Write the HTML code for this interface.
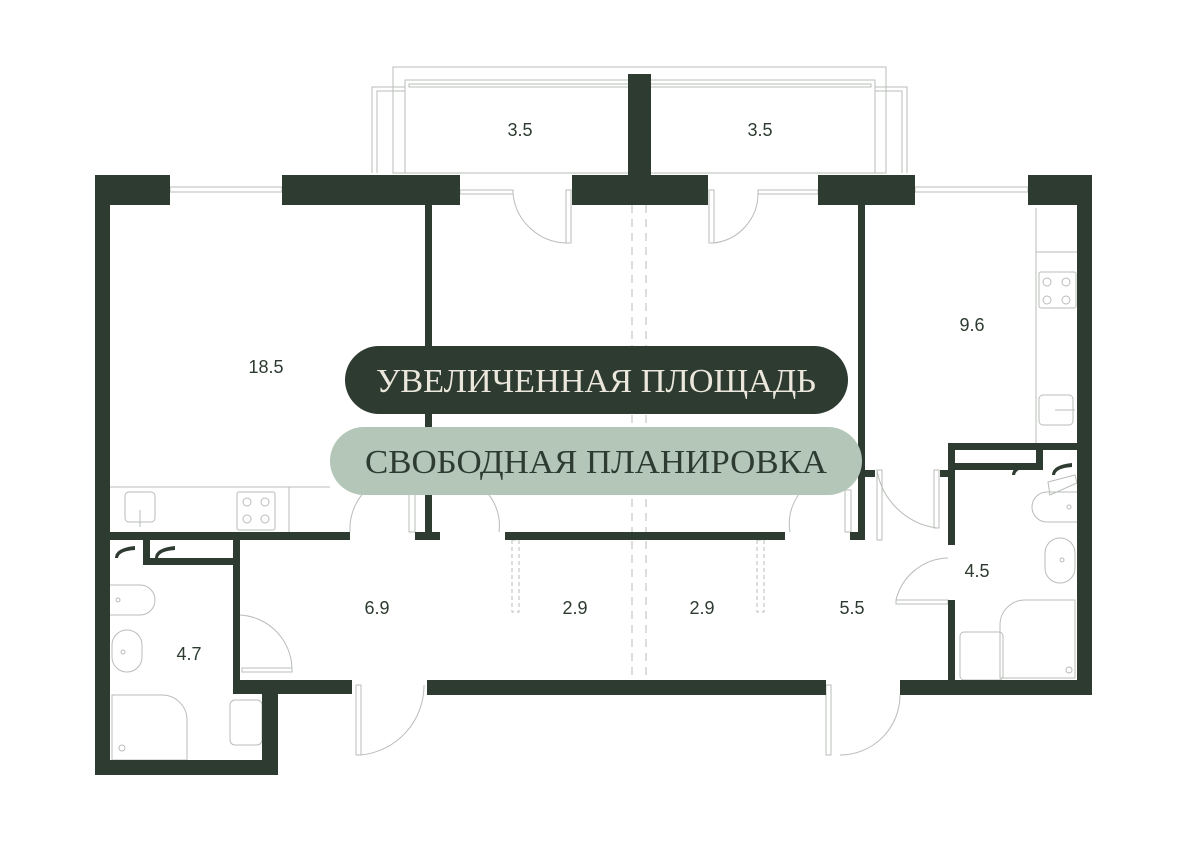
<!DOCTYPE html>
<html><head><meta charset="utf-8"><style>
html,body{margin:0;padding:0;background:#fff;}
svg{display:block}
.n{font-family:"Liberation Sans",sans-serif;font-size:18px;fill:#2d3b30;text-anchor:middle}
.l{fill:none;stroke:#b8bdb8;stroke-width:1}
</style></head><body>
<svg width="1191" height="842" viewBox="0 0 1191 842" xmlns="http://www.w3.org/2000/svg">
<g class="l">
<!-- balcony outlines -->
<rect x="393" y="67" width="493" height="106"/>
<rect x="405" y="80" width="470" height="93"/>
<rect x="409" y="84" width="462" height="3"/>
<polyline points="372,173 372,87 405,87"/>
<polyline points="377,173 377,91 405,91"/>
<polyline points="907,173 907,87 875,87"/>
<polyline points="902,173 902,91 875,91"/>
<!-- windows -->
<rect x="170" y="187" width="112" height="5"/>
<rect x="915" y="187" width="113" height="5"/>
<rect x="460" y="190" width="53" height="4"/>
<rect x="758" y="190" width="60" height="4"/>
<rect x="566" y="190" width="5" height="53"/>
<rect x="709" y="190" width="5" height="53"/>
<path d="M513,194 A55,55 0 0 0 566,243"/>
<path d="M758,194 A50,50 0 0 1 714,243"/>
<!-- dashed center -->
<line x1="632" y1="205" x2="632" y2="680" stroke-dasharray="8,6"/>
<line x1="646" y1="205" x2="646" y2="680" stroke-dasharray="8,6"/>
<rect x="512" y="540" width="7" height="72" stroke-dasharray="4,3"/>
<rect x="757" y="540" width="7" height="72" stroke-dasharray="4,3"/>
<!-- left kitchen -->
<line x1="110" y1="487" x2="330" y2="487"/>
<rect x="125" y="492" width="30" height="30" rx="4"/>
<line x1="140" y1="510" x2="140" y2="527"/>
<rect x="237" y="492" width="38" height="38" rx="2"/>
<circle cx="247" cy="502" r="4"/><circle cx="265" cy="502" r="4"/><circle cx="247" cy="519" r="4"/><circle cx="265" cy="519" r="4"/>
<line x1="289" y1="487" x2="289" y2="532"/>
<!-- doors near pill -->
<path d="M350,532 A55,55 0 0 1 380,480"/>
<rect x="409" y="490" width="6" height="42"/>
<path d="M499,532 A50,50 0 0 0 470,480"/>
<path d="M790,532 A50,50 0 0 1 815,480"/>
<rect x="845" y="490" width="6" height="42"/>
<!-- left bath -->
<path d="M110,585 h30 a15,15 0 0 1 0,30 h-30"/>
<circle cx="118" cy="600" r="2"/>
<rect x="112" y="630" width="30" height="42" rx="15"/>
<circle cx="123" cy="652" r="2"/>
<path d="M112,695 h50 a25,25 0 0 1 25,25 v40 h-75 z"/>
<circle cx="122" cy="748" r="3"/>
<rect x="230" y="700" width="32" height="45" rx="5"/>
<path d="M240,615 A55,55 0 0 1 292,668"/>
<rect x="242" y="668" width="50" height="4"/>
<rect x="356" y="685" width="5" height="70"/>
<path d="M361,755 A70,70 0 0 0 424,685"/>
<!-- right kitchen -->
<line x1="1036" y1="208" x2="1036" y2="443"/>
<line x1="1036" y1="252" x2="1077" y2="252"/>
<rect x="1039" y="272" width="37" height="36" rx="2"/>
<circle cx="1047" cy="282" r="4"/><circle cx="1066" cy="282" r="4"/><circle cx="1047" cy="300" r="4"/><circle cx="1066" cy="300" r="4"/>
<rect x="1039" y="395" width="34" height="30" rx="4"/>
<line x1="1055" y1="410" x2="1075" y2="410"/>
<!-- right door 9.6 -->
<rect x="877" y="470" width="5" height="70"/>
<path d="M877,470 A70,70 0 0 0 937,528"/>
<rect x="934" y="470" width="5" height="58"/>
<!-- right bath -->
<path d="M1077,492 h-30 a15,15 0 0 0 0,30 h30"/>
<circle cx="1069" cy="507" r="2"/>
<rect x="1045" y="538" width="30" height="45" rx="15"/>
<circle cx="1062" cy="560" r="2"/>
<path d="M1075,600 h-50 a25,25 0 0 0 -25,25 v53 h75 z"/>
<circle cx="1069" cy="670" r="3"/>
<rect x="960" y="632" width="43" height="48" rx="4"/>
<path d="M948,558 A55,55 0 0 0 896,600"/>
<rect x="896" y="600" width="52" height="4"/>
<path d="M900,695 A60,60 0 0 1 840,755"/>
<rect x="826" y="685" width="5" height="70"/>
<path d="M1048,482 L1075,475 L1077,483 L1050,495 z"/>
</g>
<g fill="#2d3b30">
<!-- top walls -->
<rect x="95" y="175" width="75" height="30"/>
<rect x="282" y="175" width="178" height="30"/>
<rect x="572" y="175" width="136" height="30"/>
<rect x="628" y="74" width="23" height="101"/>
<rect x="818" y="175" width="97" height="30"/>
<rect x="1028" y="175" width="64" height="30"/>
<!-- outer -->
<rect x="95" y="175" width="15" height="600"/>
<rect x="95" y="760" width="183" height="15"/>
<rect x="262" y="680" width="16" height="95"/>
<rect x="233" y="680" width="119" height="14"/>
<rect x="233" y="612" width="7" height="75"/>
<rect x="427" y="680" width="399" height="15"/>
<rect x="900" y="680" width="192" height="15"/>
<rect x="1077" y="175" width="15" height="520"/>
<!-- interior -->
<rect x="425" y="205" width="7" height="335"/>
<rect x="110" y="532" width="240" height="8"/>
<rect x="415" y="532" width="25" height="8"/>
<rect x="505" y="532" width="280" height="8"/>
<rect x="858" y="205" width="7" height="335"/>
<rect x="850" y="532" width="15" height="8"/>
<rect x="233" y="540" width="7" height="72"/>
<rect x="143" y="540" width="7" height="25"/>
<rect x="143" y="558" width="97" height="7"/>
<rect x="948" y="443" width="129" height="7"/>
<rect x="948" y="443" width="7" height="102"/>
<rect x="948" y="463" width="88" height="7"/>
<rect x="1036" y="450" width="7" height="20"/>
<rect x="865" y="470" width="10" height="7"/>
<rect x="940" y="470" width="10" height="7"/>
<rect x="948" y="600" width="7" height="85"/>
<!-- shaft marks -->
<path d="M115,558 q0,-10 20,-12 v4 q-16,1 -17,8 z"/>
<path d="M155,558 q0,-10 20,-12 v4 q-16,1 -17,8 z"/>
<path d="M1012,475 q0,-10 20,-12 v4 q-16,1 -17,8 z"/>
<path d="M1052,475 q0,-10 20,-12 v4 q-16,1 -17,8 z"/>
</g>
<!-- labels -->
<text class="n" x="520" y="136">3.5</text>
<text class="n" x="760" y="136">3.5</text>
<text class="n" x="266" y="373">18.5</text>
<text class="n" x="972" y="331">9.6</text>
<text class="n" x="377" y="614">6.9</text>
<text class="n" x="575" y="614">2.9</text>
<text class="n" x="702" y="614">2.9</text>
<text class="n" x="852" y="614">5.5</text>
<text class="n" x="977" y="577">4.5</text>
<text class="n" x="189" y="660">4.7</text>
<!-- pills -->
<rect x="345" y="346" width="503" height="68" rx="34" fill="#2d3b30"/>
<text x="596" y="392" text-anchor="middle" font-family="Liberation Serif,serif" font-size="34" fill="#ece7dc" textLength="440" lengthAdjust="spacingAndGlyphs">УВЕЛИЧЕННАЯ ПЛОЩАДЬ</text>
<rect x="330" y="427" width="532" height="68" rx="34" fill="#b3c6b8"/>
<text x="596" y="473" text-anchor="middle" font-family="Liberation Serif,serif" font-size="34" fill="#2d3b30" textLength="462" lengthAdjust="spacingAndGlyphs">СВОБОДНАЯ ПЛАНИРОВКА</text>
</svg>
</body></html>
